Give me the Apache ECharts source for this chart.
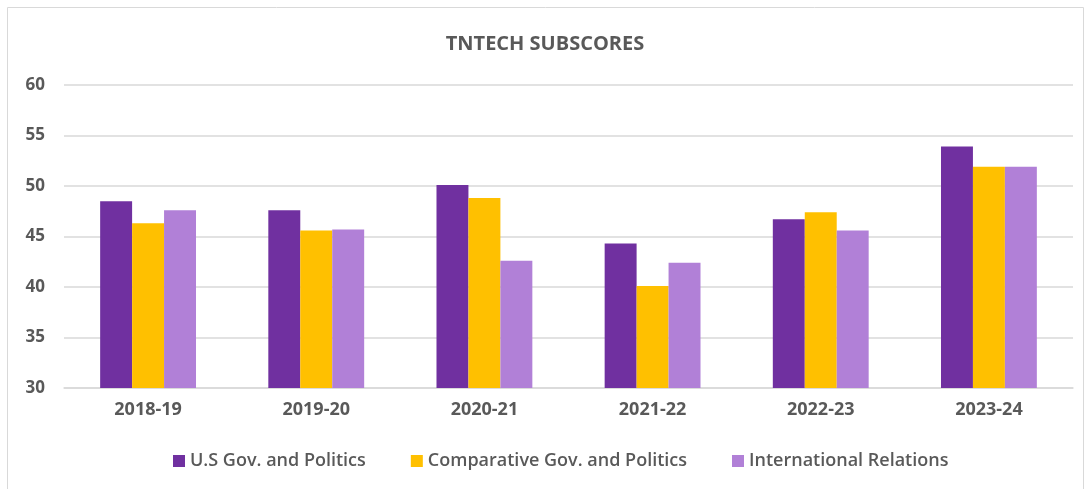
<!DOCTYPE html>
<html>
<head>
<meta charset="utf-8">
<script src="https://cdn.jsdelivr.net/npm/echarts@6/dist/echarts.min.js"></script>
<style>html,body{margin:0;padding:0;background:#fff;}#c{width:1090px;height:489px;}</style>
</head>
<body>
<div id="c"></div>
<script>
const categories = ['2018-19','2019-20','2020-21','2021-22','2022-23','2023-24'];
const usGov = [48.5, 47.6, 50.1, 44.3, 46.7, 53.9];
const compGov = [46.3, 45.6, 48.8, 40.1, 47.4, 51.9];
const intlRel = [47.6, 45.7, 42.6, 42.4, 45.6, 51.9];
const seriesNames = ['U.S Gov. and Politics','Comparative Gov. and Politics','International Relations'];
const colors = ['#7030A0','#FFC000','#B180D7'];
const yTicks = {min:30, max:60, interval:5};

const chart = echarts.init(document.getElementById('c'), null, {renderer:'canvas'});
const font = 'Open Sans';
const txt = '#595959';
chart.setOption({
  animation:false,
  textStyle:{fontFamily:font},
  graphic:[{type:'rect', shape:{x:7.5,y:7.5,width:1076,height:490}, style:{fill:'none', stroke:'#D9D9D9', lineWidth:1}, silent:true}],
  title:{text:'TNTECH SUBSCORES', left:'center', top:29, textStyle:{fontFamily:font, fontSize:20, fontWeight:'bold', color:txt}},
  legend:{data:seriesNames, bottom:14, left:168, itemWidth:12, itemHeight:12, itemGap:45, icon:'rect',
    textStyle:{fontFamily:font, fontSize:18, fontWeight:600, color:txt}},
  grid:{left:64, right:17, top:85, bottom:101, containLabel:false},
  xAxis:{type:'category', data:categories, axisTick:{show:false},
    axisLine:{lineStyle:{color:'#D9D9D9', width:1.5}},
    axisLabel:{fontFamily:font, fontSize:18, fontWeight:'bold', color:txt, margin:13}},
  yAxis:{type:'value', min:yTicks.min, max:yTicks.max, interval:yTicks.interval,
    axisLine:{show:false}, axisTick:{show:false},
    splitLine:{lineStyle:{color:'#D9D9D9', width:1.5}},
    axisLabel:{fontFamily:font, fontSize:17, fontWeight:'bold', color:txt, margin:19}},
  series:[usGov, compGov, intlRel].map((d,i)=>({
    name:seriesNames[i], type:'bar', data:d, barGap:'0%', barCategoryGap:'43%',
    itemStyle:{color:colors[i]}
  }))
});
</script>
</body>
</html>
